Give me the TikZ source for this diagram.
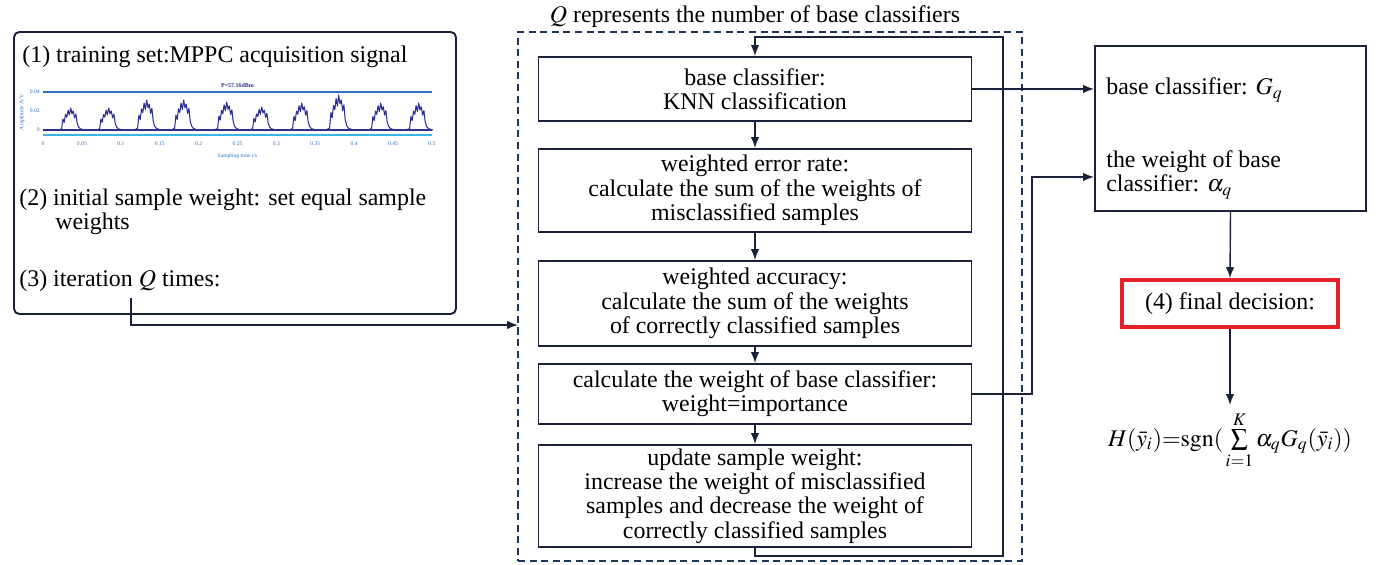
\documentclass[tikz,border=0pt]{standalone}
\usepackage{mathptmx}
\usepackage{fontspec}
\setmainfont{Liberation Serif}
\usepackage{tikz}
\usetikzlibrary{arrows.meta,positioning,calc}
\definecolor{Navy}{HTML}{1B2138}
\definecolor{DashNavy}{HTML}{1E3558}
\definecolor{FrameRed}{HTML}{E42028}
\definecolor{WaveBlue}{HTML}{2E3192}
\definecolor{AxisBlue}{HTML}{2F6FC0}
\definecolor{AxisCyan}{HTML}{3BB4E8}

\begin{document}
\begin{tikzpicture}[>={Latex[length=2.2mm,width=1.7mm]},font=\fontsize{13.6}{13.8}\selectfont,
  stepbox/.style={draw=Navy,line width=1.1pt,minimum width=8.66cm,align=center,inner sep=2pt},
  flow/.style={draw=Navy,line width=0.8pt},
  tinylbl/.style={text=AxisBlue,font=\fontsize{3.2}{3.6}\selectfont,inner sep=0pt}]
  \useasboundingbox (0,0) rectangle (27.56,11.30);
  % left panel
  \node[draw=Navy,line width=1.1pt,rounded corners=3pt,minimum width=8.84cm,minimum height=5.64cm] (lb) at (4.70,7.84) {};
  \node[anchor=west,inner sep=0pt] (s1) at (0.44,10.16) {(1) training set:MPPC acquisition signal};
  \node[anchor=west,inner sep=0pt,align=left] (s2) at (0.38,7.06) {(2) initial sample weight: set equal sample\\\hspace*{0.72cm}weights};
  \node[anchor=west,inner sep=0pt] (s3) at (0.38,5.68) {(3) iteration $Q$ times:};
  % signal inset
  \draw[AxisBlue,line width=0.7pt] (0.86,9.46) -- (8.64,9.46);
  \draw[AxisCyan,line width=0.9pt] (0.86,8.60) -- (8.64,8.60);
  \draw[WaveBlue,line width=0.6pt] (0.86,8.70) -- (8.64,8.70);
  \foreach \c/\h in {1.44/0.44,2.20/0.44,2.96/0.60,3.70/0.60,4.56/0.56,5.26/0.46,6.06/0.54,6.80/0.70,7.64/0.54,8.40/0.54}{
    \begin{scope}[shift={(\c,8.70)},xscale=1.3,yscale=\h]
      \draw[WaveBlue,line width=0.6pt,line join=round] (-0.22,0) -- (-0.16,0.05) -- (-0.14,0.5) -- (-0.12,0.35) -- (-0.10,0.7) -- (-0.08,0.58) -- (-0.06,0.9) -- (-0.04,0.68) -- (-0.02,1) -- (0,0.74) -- (0.02,0.86) -- (0.04,0.55) -- (0.06,0.72) -- (0.08,0.3) -- (0.10,0.14) -- (0.13,0.05) -- (0.20,0);
    \end{scope}
  }
  \node[tinylbl,text=WaveBlue,font=\fontsize{3.4}{4}\bfseries] (ptitle) at (4.75,9.60) {P=57.16dBm};
  \foreach \t [count=\i from 0] in {0,0.05,0.1,0.15,0.2,0.25,0.3,0.35,0.4,0.45,0.5}{
    \node[tinylbl] (tx\i) at (0.86+\i*0.778,8.42) {\t};
  }
  \foreach \t/\y [count=\i] in {0.04/9.46,0.02/9.08,0/8.70}{
    \node[tinylbl,anchor=east] (ty\i) at (0.80,\y) {\t};
  }
  \node[tinylbl,rotate=90] (ylab) at (0.44,9.05) {Amplitude A/V};
  \node[tinylbl] (xlab) at (4.75,8.18) {Sampling time t/s};
  % iteration block
  \node[draw=DashNavy,line width=1.1pt,dash pattern=on 4pt off 2.6pt,minimum width=10.08cm,minimum height=10.58cm] (qb) at (15.40,5.37) {};
  \node (qlab) at (15.10,10.96) {$Q$ represents the number of base classifiers};
  \node[stepbox,minimum height=1.28cm] (b1) at (15.10,9.52) {base classifier:\\KNN classification};
  \node[stepbox,minimum height=1.66cm] (b2) at (15.10,7.49) {weighted error rate:\\calculate the sum of the weights of\\misclassified samples};
  \node[stepbox,minimum height=1.70cm] (b3) at (15.10,5.23) {weighted accuracy:\\calculate the sum of the weights\\of correctly classified samples};
  \node[stepbox,minimum height=1.20cm] (b4) at (15.10,3.42) {calculate the weight of base classifier:\\weight=importance};
  \node[stepbox,minimum height=2.04cm] (b5) at (15.10,1.38) {update sample weight:\\increase the weight of misclassified\\samples and decrease the weight of\\correctly classified samples};
  \draw[flow,->] (b1) -- (b2);
  \draw[flow,->] (b2) -- (b3);
  \draw[flow,->] (b3) -- (b4);
  \draw[flow,->] (b4) -- (b5);
  \coordinate (loopbr) at (20.06,0.18);
  \coordinate (looptr) at (20.06,10.56);
  \draw[flow,->] (b5.south) |- (loopbr) -- (looptr) -| (b1.north);
  % outputs
  \node[draw=Navy,line width=1.1pt,minimum width=5.42cm,minimum height=3.30cm] (rb) at (24.61,8.73) {};
  \node[anchor=west,inner sep=0pt] (gq) at (22.12,9.50) {base classifier: $G_q$};
  \node[anchor=west,inner sep=0pt,align=left] (aq) at (22.12,7.80) {the weight of base\\classifier: $\alpha_q$};
  \draw[flow,->] (b1.east) -- (b1.east -| rb.west);
  \coordinate (bend) at (20.64,7.76);
  \draw[flow,->] (b4.east) -| (bend) -- (rb.west |- bend);
  \coordinate (qstart) at (2.62,5.34);
  \coordinate (qin) at (10.36,4.80);
  \draw[flow,->] (qstart) |- (qin);
  \node[draw=FrameRed,line width=2pt,minimum width=4.32cm,minimum height=0.94cm] (fd) at (24.60,5.23) {(4) final decision:};
  \node (hf) at (24.60,2.50) {$H(\bar{y}_i){=}\mathrm{sgn}(\,\sum\limits_{i=1}^{K}\alpha_q G_q(\bar{y}_i))$};
  \draw[flow,->] (rb.south) -- (fd.north);
  \draw[flow,->] (fd.south) -- (hf.north);
\end{tikzpicture}
\end{document}
